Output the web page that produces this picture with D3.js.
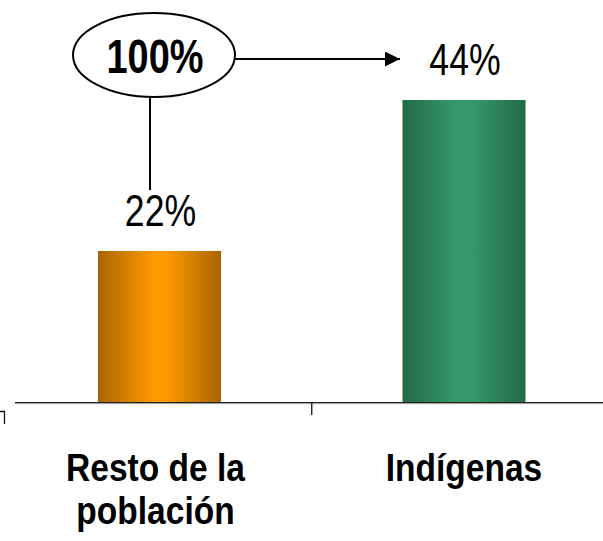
<!DOCTYPE html>
<html>
<head>
<meta charset="utf-8">
<script src="https://cdn.jsdelivr.net/npm/d3@7"></script>
<style>
  html, body { margin: 0; padding: 0; background: #fff; }
  svg { display: block; }
  .narrow { font-family: "Liberation Sans", Arial, sans-serif; }
</style>
</head>
<body>
<svg id="chart" width="603" height="541"></svg>
<script>
// ---- data ----
const categories = ["Resto de la población", "Indígenas"];
const categoryLines = [["Resto de la", "población"], ["Indígenas"]];
const values = [22, 44];
const valueLabels = ["22%", "44%"];
const totalLabel = "100%";
const barColors = [
  { edge: "#a86400", mid: "#ff9a00" },
  { edge: "#236b48", mid: "#36996b" }
];

const svg = d3.select("#chart");
const W = 603, H = 541;

const x = d3.scaleBand().domain(categories).range([7.25, 616.25]).padding(0);
const barW = x.bandwidth() * 0.404;
const y = d3.scaleLinear().domain([0, 44]).range([402, 100]);

// gradients
const defs = svg.append("defs");
barColors.forEach((c, i) => {
  const g = defs.append("linearGradient").attr("id", "grad" + i)
    .attr("x1", "0%").attr("x2", "100%").attr("y1", "0%").attr("y2", "0%");
  g.append("stop").attr("offset", "0%").attr("stop-color", c.edge);
  g.append("stop").attr("offset", "45%").attr("stop-color", c.mid);
  g.append("stop").attr("offset", "55%").attr("stop-color", c.mid);
  g.append("stop").attr("offset", "100%").attr("stop-color", c.edge);
});
defs.append("marker").attr("id", "arrow")
  .attr("viewBox", "0 0 10 10").attr("refX", 10).attr("refY", 5)
  .attr("markerWidth", 16).attr("markerHeight", 15).attr("markerUnits", "userSpaceOnUse")
  .attr("orient", "auto")
  .append("path").attr("d", "M0,0 L10,5 L0,10 Z").attr("fill", "#000");

// bars
svg.selectAll("rect.bar").data(values).enter().append("rect")
  .attr("class", "bar")
  .attr("x", (d, i) => x(categories[i]) + (x.bandwidth() - barW) / 2)
  .attr("y", d => y(d))
  .attr("width", barW)
  .attr("height", d => y(0) - y(d))
  .attr("fill", (d, i) => `url(#grad${i})`);

// axis
svg.append("line").attr("x1", 15).attr("x2", W).attr("y1", y(0) + 0.5).attr("y2", y(0) + 0.5)
  .attr("stroke", "#222").attr("stroke-width", 1.2);
svg.append("line").attr("x1", 15).attr("x2", W).attr("y1", y(0) + 1.6).attr("y2", y(0) + 1.6)
  .attr("stroke", "#999").attr("stroke-width", 1);
svg.append("line").attr("x1", x(categories[1])).attr("x2", x(categories[1]))
  .attr("y1", y(0)).attr("y2", y(0) + 13).attr("stroke", "#111").attr("stroke-width", 1.3);
svg.append("path").attr("d", `M0,${y(0) + 9.5} H4.5 V${y(0) + 22}`)
  .attr("fill", "none").attr("stroke", "#111").attr("stroke-width", 1.3);

function narrowText(cx, by, size, bold, sx) {
  return svg.append("g").attr("transform", `translate(${cx},${by}) scale(${sx},1)`)
    .append("text").attr("class", "narrow")
    .attr("x", 0).attr("y", 0)
    .attr("text-anchor", "middle")
    .attr("font-size", size)
    .attr("font-weight", bold ? "bold" : "normal")
    .attr("fill", "#000");
}

// value labels
values.forEach((d, i) => {
  narrowText(x(categories[i]) + x.bandwidth() / 2 + 1, y(d) - 25.5, 44, false, 0.81).text(valueLabels[i]);
});

// category labels
categoryLines.forEach((lines, i) => {
  const t = narrowText(x(categories[i]) + x.bandwidth() / 2 + (i === 0 ? -4 : 0), 481, 39, true, 0.86);
  lines.forEach((ln, j) => {
    t.append("tspan").attr("x", 0).attr("y", j * 43).text(ln);
  });
});

// annotation: ellipse with total
const ex = 154, ey = 55;
svg.append("ellipse").attr("cx", ex).attr("cy", ey).attr("rx", 81).attr("ry", 42)
  .attr("fill", "#fff").attr("stroke", "#000").attr("stroke-width", 2);
narrowText(ex + 1, 73, 48, true, 0.79).text(totalLabel);

// connector lines
svg.append("line").attr("x1", 235).attr("x2", 400).attr("y1", 59).attr("y2", 59)
  .attr("stroke", "#000").attr("stroke-width", 2).attr("marker-end", "url(#arrow)");
svg.append("line").attr("x1", 150).attr("x2", 150).attr("y1", 97).attr("y2", y(values[0]) - 61)
  .attr("stroke", "#000").attr("stroke-width", 2);
</script>
</body>
</html>
